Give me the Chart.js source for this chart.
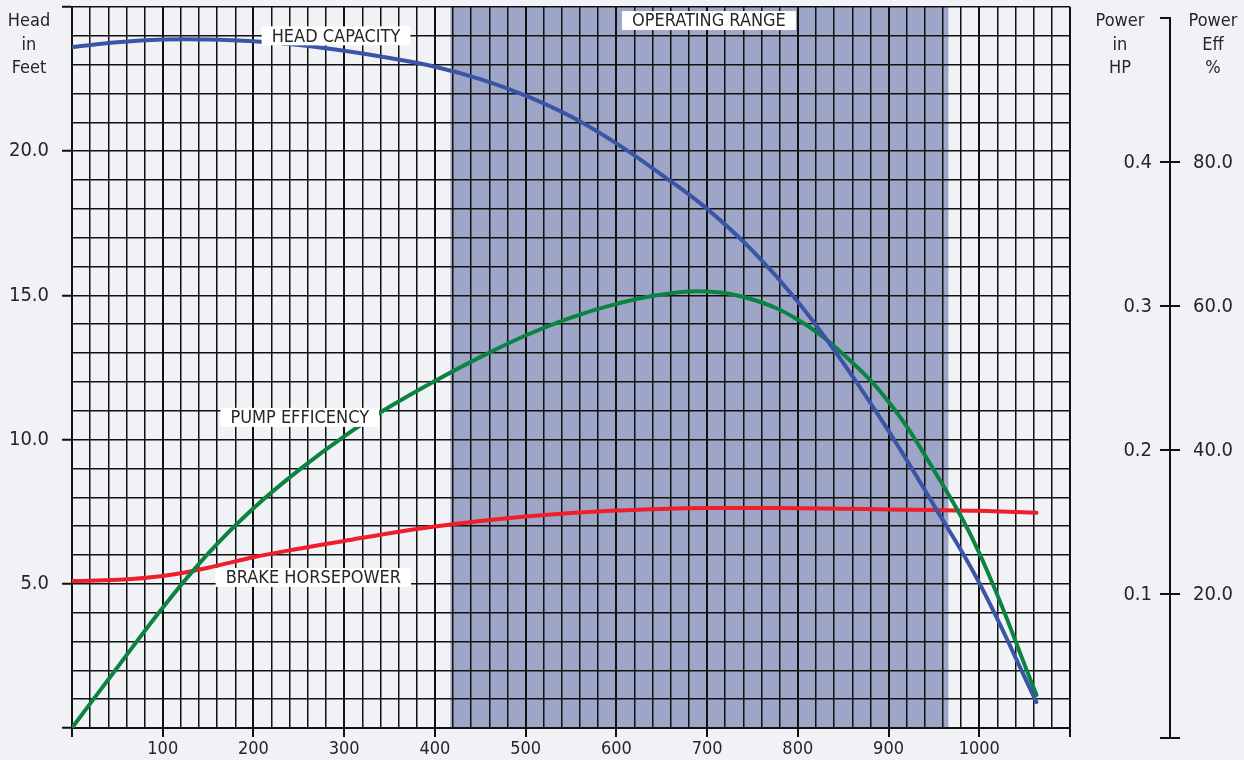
<!DOCTYPE html>
<html>
<head>
<meta charset="utf-8">
<script src="https://cdn.jsdelivr.net/npm/chart.js@4"></script>
<style>
  html, body { margin: 0; padding: 0; background: #f1f2f6; }
  canvas { display: block; }
</style>
</head>
<body>
<canvas id="chart" width="1244" height="760"></canvas>
<script>
'use strict';

// flow (x) and the three curves
const flow = [0, 50, 100, 150, 200, 250, 300, 350, 400, 450, 500, 550, 600, 650, 700, 750, 800, 850, 900, 950, 1000, 1063];
const headFeet = [23.61, 23.78, 23.87, 23.87, 23.81, 23.68, 23.48, 23.23, 22.93, 22.5, 21.93, 21.2, 20.27, 19.18, 18.0, 16.55, 14.78, 12.66, 10.3, 7.72, 5.03, 0.9];
const pumpEff = [1.4, 9.8, 18.1, 25.6, 31.9, 37.2, 41.9, 46.0, 49.6, 52.9, 55.9, 58.4, 60.3, 61.6, 62.0, 60.9, 58.1, 53.3, 46.7, 37.2, 25.7, 6.0];
const brakeHp = [0.109, 0.1098, 0.1125, 0.1182, 0.1255, 0.1314, 0.1368, 0.1422, 0.1468, 0.1506, 0.1538, 0.1562, 0.1579, 0.159, 0.1596, 0.1597, 0.1595, 0.1591, 0.1587, 0.1583, 0.1577, 0.1563];

// tick labels
const flowTicks = [100, 200, 300, 400, 500, 600, 700, 800, 900, 1000];
const headTicks = [5, 10, 15, 20];
const hpTicks = [0.1, 0.2, 0.3, 0.4];
const effTicks = [20, 40, 60, 80];

const operatingRange = [417, 966];

const notes = [
  { text: 'HEAD CAPACITY', x: 291, y: 24.0 },
  { text: 'OPERATING RANGE', x: 702, y: 24.53 },
  { text: 'PUMP EFFICENCY', x: 251, y: 10.77 },
  { text: 'BRAKE HORSEPOWER', x: 266, y: 5.22 }
];

const FONT = '"DejaVu Sans Condensed", "DejaVu Sans", sans-serif';
const INK = '#262626';
const LINE = '#111';

function pts(ys) {
  return flow.map((x, i) => ({ x: x, y: ys[i] }));
}

const extras = {
  id: 'extras',
  beforeDraw(chart) {
    const ctx = chart.ctx;
    const area = chart.chartArea;
    const x = chart.scales.x;
    ctx.save();
    ctx.fillStyle = '#f1f2f6';
    ctx.fillRect(0, 0, chart.width, chart.height);
    ctx.fillStyle = '#9ea6c8';
    const x0 = x.getPixelForValue(operatingRange[0]);
    const x1 = x.getPixelForValue(operatingRange[1]);
    ctx.fillRect(x0, area.top, x1 - x0, area.bottom - area.top);
    ctx.restore();
  },
  afterDatasetsDraw(chart) {
    const ctx = chart.ctx;
    const x = chart.scales.x;
    const y = chart.scales.y;
    ctx.save();
    ctx.font = '18px ' + FONT;
    ctx.textAlign = 'center';
    ctx.textBaseline = 'middle';
    for (let n of notes) {
      const cx = x.getPixelForValue(n.x);
      const cy = y.getPixelForValue(n.y);
      const w = ctx.measureText(n.text).width + 20;
      ctx.fillStyle = '#fff';
      ctx.fillRect(cx - w / 2, cy - 9.5, w, 19);
      ctx.fillStyle = INK;
      ctx.fillText(n.text, cx, cy + 1);
    }
    ctx.restore();
  },
  afterDraw(chart) {
    const ctx = chart.ctx;
    const area = chart.chartArea;
    const hp = chart.scales.yHp;
    const eff = chart.scales.yEff;
    const ax = area.right + 100;

    ctx.save();
    ctx.fillStyle = INK;
    ctx.font = '18px ' + FONT;
    ctx.textAlign = 'center';
    ctx.textBaseline = 'alphabetic';
    ['Head', 'in', 'Feet'].forEach((t, i) => ctx.fillText(t, 29, 26 + i * 23.5));
    ['Power', 'in', 'HP'].forEach((t, i) => ctx.fillText(t, 1120, 26 + i * 23.5));
    ['Power', 'Eff', '%'].forEach((t, i) => ctx.fillText(t, 1213, 26 + i * 23.5));

    // right hand axis
    ctx.strokeStyle = LINE;
    ctx.lineWidth = 2;
    const top = Math.round(hp.getPixelForValue(0.5));
    const bottom = Math.round(hp.getPixelForValue(0));
    ctx.beginPath();
    ctx.moveTo(ax - 10, top);
    ctx.lineTo(ax, top);
    ctx.lineTo(ax, bottom);
    ctx.moveTo(ax - 10, bottom);
    ctx.lineTo(ax + 10, bottom);
    ctx.stroke();

    ctx.font = '20px ' + FONT;
    ctx.textBaseline = 'middle';
    hpTicks.forEach((v, i) => {
      const py = Math.round(hp.getPixelForValue(v));
      ctx.beginPath();
      ctx.moveTo(ax - 10, py);
      ctx.lineTo(ax + 10, py);
      ctx.stroke();
      ctx.textAlign = 'right';
      ctx.fillText(v.toFixed(1), ax - 18, py + 1);
      const pe = eff.getPixelForValue(effTicks[i]);
      ctx.textAlign = 'left';
      ctx.fillText(effTicks[i].toFixed(1), ax + 23, pe + 1);
    });
    ctx.restore();
  }
};

Chart.defaults.font.family = FONT;
Chart.defaults.color = INK;

new Chart(document.getElementById('chart'), {
  type: 'line',
  data: {
    datasets: [
      {
        label: 'Head Capacity',
        data: pts(headFeet),
        yAxisID: 'y',
        borderColor: '#3a55a5',
        borderWidth: 4
      },
      {
        label: 'Pump Efficency',
        data: pts(pumpEff),
        yAxisID: 'yEff',
        borderColor: '#0b8443',
        borderWidth: 4
      },
      {
        label: 'Brake Horsepower',
        data: pts(brakeHp),
        yAxisID: 'yHp',
        borderColor: '#ee1f2b',
        borderWidth: 4
      }
    ]
  },
  options: {
    responsive: false,
    animation: false,
    layout: { padding: { top: 7, right: 174, bottom: 0, left: 0 } },
    elements: {
      point: { radius: 0 },
      line: { tension: 0.4, borderCapStyle: 'round' }
    },
    plugins: {
      legend: { display: false },
      tooltip: { enabled: false }
    },
    scales: {
      x: {
        type: 'linear',
        min: 0,
        max: 1100,
        afterFit(scale) {
          scale.height = 32;
          scale.paddingLeft = 0;
          scale.paddingRight = 0;
        },
        ticks: {
          stepSize: 20,
          autoSkip: false,
          maxRotation: 0,
          padding: 2,
          font: { size: 18 },
          callback: v => flowTicks.includes(v) ? String(v) : ''
        },
        grid: {
          color: LINE,
          lineWidth: c => (c.tick && c.tick.value % 100 === 0) ? 2 : 1.5,
          tickColor: c => (c.tick && c.tick.value % 100 === 0) ? LINE : 'rgba(0,0,0,0)',
          tickLength: 9,
          tickWidth: 2
        },
        border: { color: LINE, width: 2 }
      },
      y: {
        min: 0,
        max: 25,
        afterFit(scale) {
          scale.width = 72;
          scale.paddingTop = 0;
          scale.paddingBottom = 0;
        },
        ticks: {
          stepSize: 1,
          autoSkip: false,
          padding: 13,
          font: { size: 20 },
          callback: v => headTicks.includes(v) ? v.toFixed(1) : ''
        },
        grid: {
          color: LINE,
          lineWidth: 1.5,
          tickColor: c => (c.tick && c.tick.value % 5 === 0) ? LINE : 'rgba(0,0,0,0)',
          tickLength: 10,
          tickWidth: 2
        },
        border: { color: LINE, width: 2 }
      },
      yHp: {
        display: false,
        min: 0.0069,
        max: 0.5076
      },
      yEff: {
        display: false,
        min: 1.39,
        max: 101.53
      }
    }
  },
  plugins: [extras]
});
</script>
</body>
</html>
